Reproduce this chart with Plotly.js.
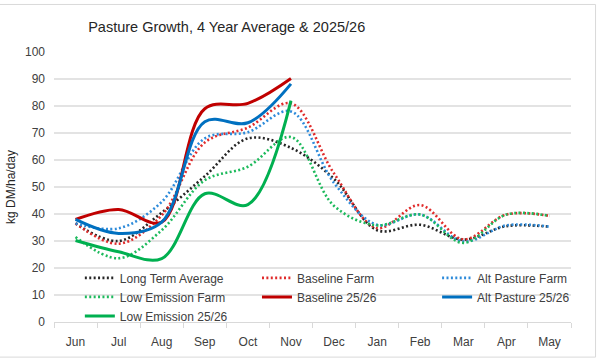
<!DOCTYPE html>
<html>
<head>
<meta charset="utf-8">
<script src="https://cdn.plot.ly/plotly-3.0.1.min.js"></script>
<style>
  html, body { margin: 0; padding: 0; background: #ffffff; }
  #chart { width: 600px; height: 360px; }
</style>
</head>
<body>
<div id="chart"></div>
<script>
const months = ["Jun", "Jul", "Aug", "Sep", "Oct", "Nov", "Dec", "Jan", "Feb", "Mar", "Apr", "May"];
const months2526 = ["Jun", "Jul", "Aug", "Sep", "Oct", "Nov"];

const longTermAverage = [36.5, 30, 40.5, 54, 68, 64.5, 53, 34, 36, 30.5, 35.5, 35.3];
const baselineFarm    = [36.5, 29, 39.5, 66.5, 72, 81, 55, 34.8, 43.3, 30.6, 39.8, 39.3];
const altPastureFarm  = [36.5, 34.7, 44.5, 68, 70.3, 78, 51.5, 36, 39.8, 29.8, 35.8, 35.3];
const lowEmissionFarm = [31.5, 23.6, 34, 52.5, 57.5, 68.5, 43, 35.8, 39.8, 29.3, 39.8, 39.3];
const baseline2526    = [38, 41.7, 37, 79, 81, 90.2];
const altPasture2526  = [38, 32.8, 37, 74.2, 73.8, 88.2];
const lowEmission2526 = [30.2, 26, 23.5, 47.5, 43.5, 82];

const seriesNames = ["Long Term Average", "Baseline Farm", "Alt Pasture Farm",
                     "Low Emission Farm", "Baseline 25/26", "Alt Pasture 25/26", "Low Emission 25/26"];
const yTicks = [0, 10, 20, 30, 40, 50, 60, 70, 80, 90, 100];

const dotDash = "2px,2.4px";
function dotted(name, y, color, legend) {
  return { type: "scatter", mode: "lines", name: name, x: months, y: y, legend: legend,
    line: { color: color, width: 2.6, dash: dotDash, shape: "spline", smoothing: 1 } };
}
function solid(name, y, color, legend) {
  return { type: "scatter", mode: "lines", name: name, x: months2526, y: y, legend: legend,
    line: { color: color, width: 3, shape: "spline", smoothing: 1 } };
}

const data = [
  dotted(seriesNames[0], longTermAverage, "#262626", "legend"),
  dotted(seriesNames[1], baselineFarm, "#E02B2B", "legend2"),
  dotted(seriesNames[2], altPastureFarm, "#2E8BDA", "legend3"),
  dotted(seriesNames[3], lowEmissionFarm, "#1DBA5C", "legend"),
  solid(seriesNames[4], baseline2526, "#C00000", "legend2"),
  solid(seriesNames[5], altPasture2526, "#0070C0", "legend3"),
  solid(seriesNames[6], lowEmission2526, "#00B050", "legend")
];

const font = "'Liberation Sans', Arial, sans-serif";
const legendFont = { family: font, size: 12, color: "#404040" };
function legendAt(x) {
  return { orientation: "v", x: x, xanchor: "left", y: 0.217, yanchor: "top",
    bgcolor: "rgba(0,0,0,0)", borderwidth: 0, itemwidth: 30, tracegroupgap: 0,
    traceorder: "normal", font: legendFont };
}

const layout = {
  width: 600, height: 360,
  margin: { l: 54, r: 29, t: 52, b: 38 },
  paper_bgcolor: "#ffffff", plot_bgcolor: "#ffffff",
  font: { family: font, size: 12, color: "#404040" },
  showlegend: true,
  title: { text: "Pasture Growth, 4 Year Average & 2025/26", xref: "container", x: 0.147, xanchor: "left",
           yref: "container", y: 0.925, yanchor: "middle", font: { family: font, size: 14.5, color: "#262626" } },
  xaxis: {
    type: "category", categoryorder: "array", categoryarray: months, range: [-0.5, 11.5],
    showgrid: false, zeroline: false, showline: true, linecolor: "#d9d9d9", linewidth: 1,
    ticks: "outside", tickson: "boundaries", ticklen: 5, tickcolor: "#d9d9d9",
    ticklabelstandoff: 9,
    tickfont: { family: font, size: 12, color: "#404040" }, fixedrange: true
  },
  yaxis: {
    range: [0, 100], tickvals: yTicks, ticktext: yTicks.map(String),
    showgrid: true, gridcolor: "#e3e3e3", gridwidth: 1.3, zeroline: false, showline: false,
    ticks: "", ticklabelstandoff: 8,
    tickfont: { family: font, size: 12, color: "#404040" },
    title: { text: "kg DM/ha/day", standoff: 6, font: { family: font, size: 12, color: "#262626" } },
    fixedrange: true
  },
  legend: legendAt(0.050),
  legend2: legendAt(0.3926),
  legend3: legendAt(0.741),
  shapes: [
    { type: "rect", xref: "paper", yref: "paper", x0: -0.11, x1: 1.0475, y0: -0.13, y1: 1.176,
      line: { color: "#d9d9d9", width: 1 }, fillcolor: "rgba(0,0,0,0)", layer: "below" }
  ]
};

Plotly.newPlot("chart", data, layout, { displayModeBar: false, staticPlot: true });
</script>
</body>
</html>
